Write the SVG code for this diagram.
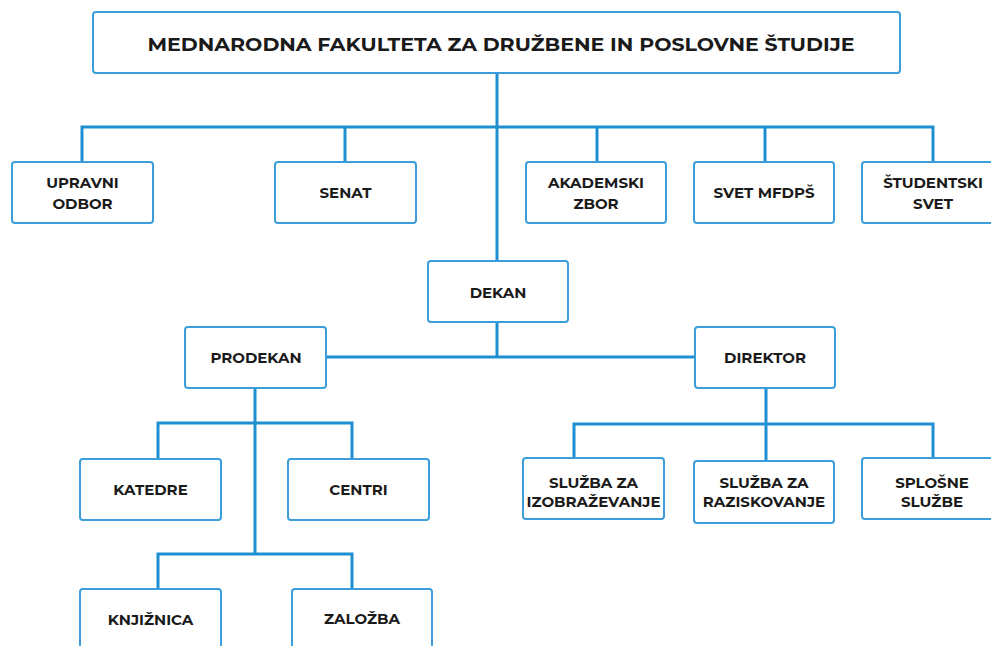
<svg xmlns="http://www.w3.org/2000/svg" width="991" height="646" viewBox="0 0 991 646">
<style>
.box{fill:#fff;stroke:#3a9edb;stroke-width:2}
.t{font-family:"Montserrat","DejaVu Sans","Liberation Sans",sans-serif;font-weight:700;font-size:15px;fill:#1a1a1a;text-anchor:middle;dominant-baseline:central}
.c{fill:none;stroke:#1f8fd1;stroke-width:3}
</style>
<rect width="991" height="646" fill="#fff"/>
<g id="connectors">
<path class="c" d="M497 73V261M497 322V357M82 162V127H933V162M345 127V162M597 127V162M765 127V162"/>
<path class="c" d="M326 357H695"/>
<path class="c" d="M255 388V554M158 459V423H352V459M158 589V554H352V589"/>
<path class="c" d="M766 388V461M574 458V424H933V458"/>
</g>
<g id="n-root"><rect class="box" x="93" y="12" width="807" height="61" rx="3"/><text class="t" x="501" y="45" style="font-size:18px" textLength="707" lengthAdjust="spacingAndGlyphs">MEDNARODNA FAKULTETA ZA DRUŽBENE IN POSLOVNE ŠTUDIJE</text></g>
<g id="n-upravni"><rect class="box" x="12" y="162" width="141" height="61" rx="3"/><text class="t" x="82.5" y="182">UPRAVNI</text><text class="t" x="82.5" y="203">ODBOR</text></g>
<g id="n-senat"><rect class="box" x="275" y="162" width="141" height="61" rx="3"/><text class="t" x="345.5" y="192">SENAT</text></g>
<g id="n-akademski"><rect class="box" x="526" y="162" width="140" height="61" rx="3"/><text class="t" x="596" y="182">AKADEMSKI</text><text class="t" x="596" y="203">ZBOR</text></g>
<g id="n-svet"><rect class="box" x="694" y="162" width="140" height="61" rx="3"/><text class="t" x="764" y="192">SVET MFDPŠ</text></g>
<g id="n-studentski"><rect class="box" x="862" y="162" width="140" height="61" rx="3"/><text class="t" x="933" y="182">ŠTUDENTSKI</text><text class="t" x="933" y="203">SVET</text></g>
<g id="n-dekan"><rect class="box" x="428" y="261" width="140" height="61" rx="3"/><text class="t" x="498" y="292">DEKAN</text></g>
<g id="n-prodekan"><rect class="box" x="185" y="327" width="141" height="61" rx="3"/><text class="t" x="256" y="357">PRODEKAN</text></g>
<g id="n-direktor"><rect class="box" x="695" y="327" width="140" height="61" rx="3"/><text class="t" x="765" y="357">DIREKTOR</text></g>
<g id="n-katedre"><rect class="box" x="80" y="459" width="141" height="61" rx="3"/><text class="t" x="150.5" y="489">KATEDRE</text></g>
<g id="n-centri"><rect class="box" x="288" y="459" width="141" height="61" rx="3"/><text class="t" x="358.5" y="489">CENTRI</text></g>
<g id="n-knjiznica"><rect class="box" x="80" y="589" width="141" height="70" rx="3"/><text class="t" x="150.5" y="619">KNJIŽNICA</text></g>
<g id="n-zalozba"><rect class="box" x="292" y="589" width="140" height="70" rx="3"/><text class="t" x="362" y="618">ZALOŽBA</text></g>
<g id="n-izobrazevanje"><rect class="box" x="523" y="458" width="141" height="61" rx="3"/><text class="t" x="593.5" y="482">SLUŽBA ZA</text><text class="t" x="593.5" y="501">IZOBRAŽEVANJE</text></g>
<g id="n-raziskovanje"><rect class="box" x="694" y="461" width="140" height="62" rx="3"/><text class="t" x="764" y="482">SLUŽBA ZA</text><text class="t" x="764" y="501">RAZISKOVANJE</text></g>
<g id="n-splosne"><rect class="box" x="862" y="458" width="140" height="61" rx="3"/><text class="t" x="932" y="482">SPLOŠNE</text><text class="t" x="932" y="501">SLUŽBE</text></g>
</svg>
